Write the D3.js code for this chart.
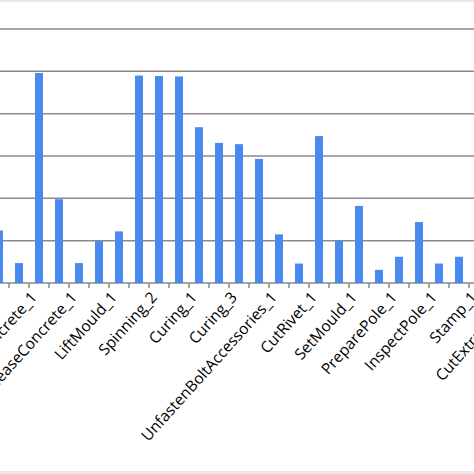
<!DOCTYPE html><html><head><script src="https://cdn.jsdelivr.net/npm/d3@7"></script>
<style>body{margin:0;background:#fff}</style></head><body><svg id="c" width="474" height="474"></svg>
<script>
const categories=["PourConcrete_0","Task_a","PourConcrete_1","Task_b","ReleaseConcrete_1","Task_c","LiftMould_1","Spinning_1","Spinning_2","Spinning_3","Curing_1","Curing_2","Curing_3","Task_d","UnfastenBoltAccessories_1","Task_e","CutRivet_1","Task_f","SetMould_1","Task_g","PreparePole_1","Task_h","InspectPole_1","Task_i","Stamp_1","Task_j","CutExtraSteel_1"];
const values=[1.24,0.47,4.96,1.98,0.47,0.99,1.22,4.9,4.89,4.88,3.68,3.31,3.28,2.93,1.15,0.46,3.47,1.0,1.82,0.31,0.62,1.44,0.46,0.62,0.8,0.5,0.6];
const yTicks=[0,1,2,3,4,5,6];
const svg=d3.select("#c");
svg.append("rect").attr("x",0).attr("y",0).attr("width",474).attr("height",2).attr("fill","#e8e8e8");
svg.append("rect").attr("x",0).attr("y",471).attr("width",474).attr("height",3).attr("fill","#e8e8e8");
const x=d3.scaleBand().domain(categories).range([-11,-11+20*categories.length]).paddingInner(0.6).paddingOuter(0.3);
const y=d3.scaleLinear().domain([0,6]).range([283,29]);
svg.append("g").selectAll("line").data(yTicks).join("line").attr("x1",0).attr("x2",474)
 .attr("y1",d=>y(d)).attr("y2",d=>y(d)).attr("stroke","#8a8a8a").attr("stroke-width",1.5);
svg.append("g").selectAll("rect").data(values).join("rect")
 .attr("x",(d,i)=>x(categories[i])).attr("width",x.bandwidth())
 .attr("y",d=>y(d)).attr("height",d=>y(0)-y(d)).attr("fill","#4a8af0");
svg.append("g").selectAll("line").data(categories).join("line")
 .attr("x1",d=>x(d)-x.bandwidth()*0.75).attr("x2",d=>x(d)-x.bandwidth()*0.75)
 .attr("y1",283).attr("y2",288).attr("stroke","#8a8a8a").attr("stroke-width",1.5);
svg.append("g").selectAll("text").data(categories.filter((d,i)=>i%2===0)).join("text")
 .attr("transform",d=>`translate(${x(d)+x.bandwidth()/2-1},${298}) rotate(-48)`)
 .attr("text-anchor","end").attr("font-family","'Open Sans',sans-serif").attr("font-size",15.5).attr("fill","#000")
 .text(d=>d);
</script></body></html>
